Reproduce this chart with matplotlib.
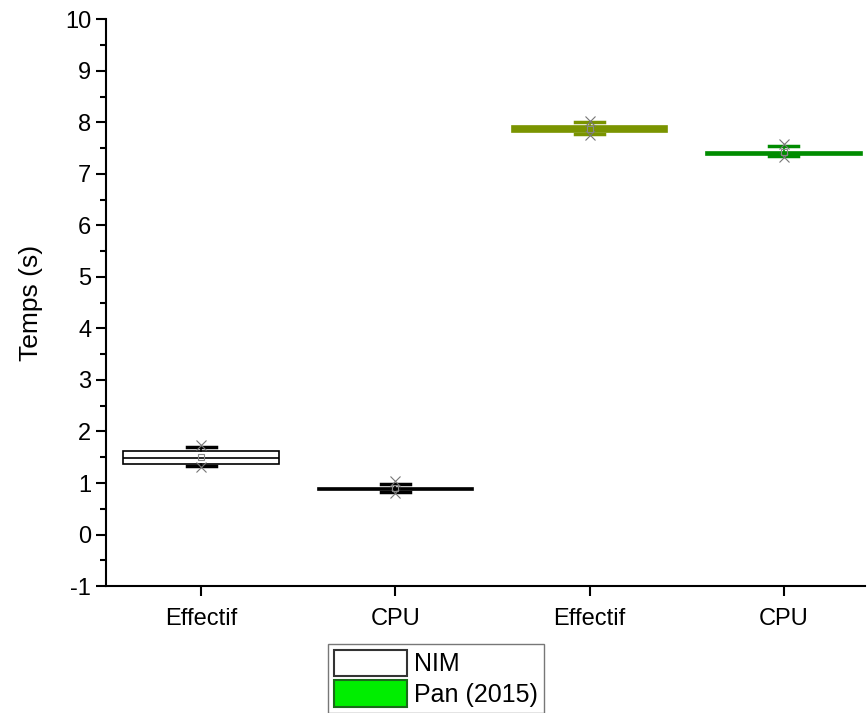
import matplotlib.pyplot as plt
from matplotlib.patches import Patch
from matplotlib.ticker import MultipleLocator

plt.rcParams['font.family'] = ['Liberation Sans', 'DejaVu Sans']
plt.rcParams['axes.unicode_minus'] = False

labels = ["Effectif", "CPU", "Effectif", "CPU"]
q1 = [1.37, 0.87, 7.81, 7.37]
med = [1.49, 0.89, 7.86, 7.40]
q3 = [1.62, 0.91, 7.92, 7.43]
whislo = [1.33, 0.83, 7.78, 7.35]
whishi = [1.70, 0.98, 8.00, 7.55]
mean = [1.50, 0.90, 7.87, 7.42]
xmin = [1.31, 0.80, 7.75, 7.33]
xmax = [1.73, 1.04, 8.02, 7.58]
face = ["white", "black", "#7a9400", "#008c00"]
edge = ["black", "black", "#7a9400", "#008c00"]

stats = []
for i in range(4):
    stats.append(dict(q1=q1[i], med=med[i], q3=q3[i], whislo=whislo[i],
                      whishi=whishi[i], mean=mean[i], fliers=[xmin[i], xmax[i]]))

fig = plt.figure(figsize=(8.68, 7.13), dpi=100)
ax = fig.add_axes([0.122, 0.178, 0.875, 0.795])

for i, s in enumerate(stats):
    ax.bxp([s], positions=[i + 1], widths=0.8, patch_artist=True, showmeans=True,
           boxprops=dict(facecolor=face[i], edgecolor=edge[i], linewidth=1.2),
           medianprops=dict(color=edge[i], linewidth=1.2),
           whiskerprops=dict(color=edge[i], linewidth=1.2),
           capprops=dict(color=edge[i], linewidth=2.5),
           capwidths=0.15,
           meanprops=dict(marker='s', markersize=5, markerfacecolor='none',
                          markeredgecolor='#888888', markeredgewidth=0.8),
           flierprops=dict(marker='x', markersize=7, markeredgecolor='#777777',
                           markeredgewidth=0.8))

ax.set_xlim(0.51, 4.42)
ax.set_ylim(-1, 10)
ax.set_xticks([1, 2, 3, 4])
ax.set_xticklabels(labels)
ax.yaxis.set_major_locator(MultipleLocator(1))
ax.yaxis.set_minor_locator(MultipleLocator(0.5))
ax.spines['top'].set_visible(False)
ax.spines['right'].set_visible(False)
for sp in ['left', 'bottom']:
    ax.spines[sp].set_linewidth(1.5)
ax.tick_params(axis='both', which='major', direction='out', length=7, width=1.5,
               labelsize=17)
ax.tick_params(axis='x', which='major', pad=9)
ax.tick_params(axis='y', which='minor', direction='out', length=4, width=1.5)
ax.set_ylabel("Temps (s)", fontsize=19, labelpad=16)

handles = [Patch(facecolor='white', edgecolor='#333333', linewidth=1.5, label='NIM'),
           Patch(facecolor='#00ee00', edgecolor='#1a6b1a', linewidth=1.5, label='Pan (2015)')]
leg = fig.legend(handles=handles, loc='lower left', bbox_to_anchor=(0.378, 0.0),
                 fontsize=18, frameon=True, fancybox=False, handlelength=2.9,
                 handleheight=1.25, handletextpad=0.3, labelspacing=0.15,
                 borderpad=0.25, borderaxespad=0.0)
leg.get_frame().set_edgecolor('#555555')
leg.get_frame().set_linewidth(1.0)

fig.savefig("out.png", dpi=100)
